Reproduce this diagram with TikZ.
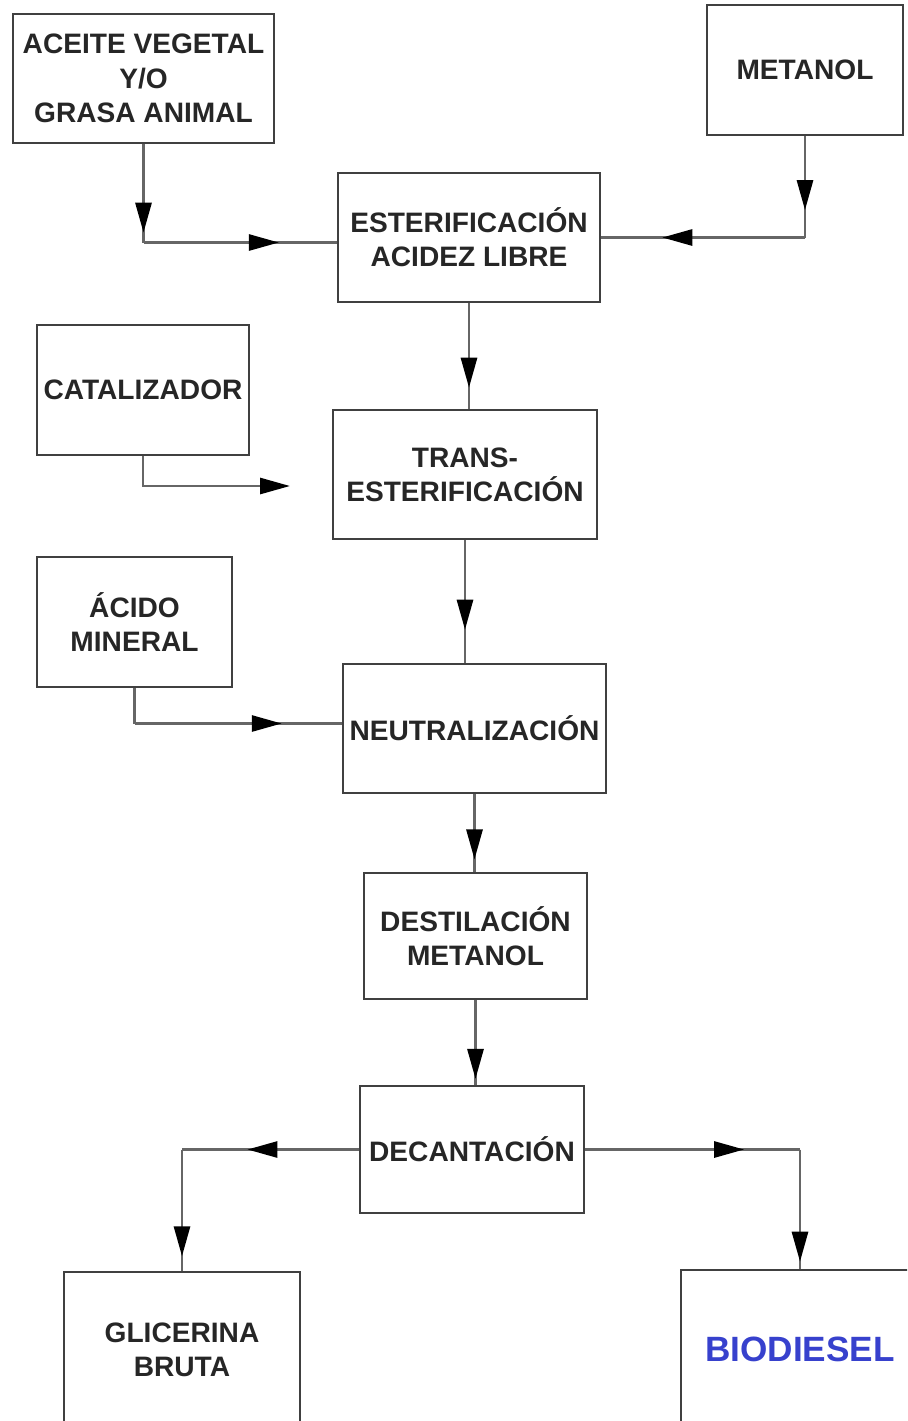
\documentclass[tikz,border=0pt]{standalone}
\usepackage{fontspec}
\setmainfont{Liberation Sans}
\usetikzlibrary{arrows.meta, decorations.markings, positioning, calc}

\newcommand{\boxfont}{\bfseries\fontsize{16}{19.5}\selectfont}
\definecolor{bioblue}{RGB}{55,65,205}

\tikzset{
    box/.style={draw=black!75, line width=1.3pt, inner sep=0pt, align=center,
        text=black!85, font=\boxfont},
    line/.style={draw=black!60, line width=1.6pt},
    flow/.style={line, postaction={decorate, decoration={markings,
        mark=at position #1 with {\arrow{Triangle[length=0.6cm, width=0.32cm, color=black]}}}}},
    flow/.default=0.75
}

\begin{document}
\begin{tikzpicture}[x=0.02cm, y=-0.02cm]
    \useasboundingbox (0,0) rectangle (907,1421);
    \clip (0,0) rectangle (907,1421);

    \node[box, minimum width=5.22cm, minimum height=2.58cm] (aceite) at (143.5,78.5) {ACEITE VEGETAL\\Y/O\\GRASA ANIMAL};
    \node[box, minimum width=3.92cm, minimum height=2.6cm] (metanol) at (805,70) {METANOL};
    \node[box, minimum width=5.24cm, minimum height=2.58cm] (ester) at (469,237.5) {ESTERIFICACIÓN\\ACIDEZ LIBRE};
    \node[box, minimum width=4.24cm, minimum height=2.6cm] (catal) at (143,390) {CATALIZADOR};
    \node[box, minimum width=5.28cm, minimum height=2.58cm] (trans) at (465,474.5) {TRANS-\\ESTERIFICACIÓN};
    \node[box, minimum width=3.9cm, minimum height=2.6cm] (acido) at (134.5,622) {ÁCIDO\\MINERAL};
    \node[box, minimum width=5.26cm, minimum height=2.58cm] (neutr) at (474.5,728.5) {NEUTRALIZACIÓN};
    \node[box, minimum width=4.46cm, minimum height=2.52cm] (dest) at (475.5,936) {DESTILACIÓN\\METANOL};
    \node[box, minimum width=4.48cm, minimum height=2.54cm] (decant) at (472,1149.5) {DECANTACIÓN};
    \node[box, minimum width=4.72cm, minimum height=3.12cm] (glic) at (182,1350) {GLICERINA\\BRUTA};
    \node[box, minimum width=4.76cm, minimum height=3.16cm, text=bioblue,
        font=\bfseries\fontsize{20}{24}\selectfont] (biod) at (800,1349) {BIODIESEL};

    % corners of the feed lines
    \coordinate (k_aceite) at ($(aceite.south |- ester.west)+(0,5)$);
    \coordinate (k_metanol) at (metanol.south |- ester.east);
    \coordinate (k_catal) at (290,486);
    \coordinate (k_acido) at ($(acido.south |- neutr.west)+(0,-5)$);
    \coordinate (k_glic) at (glic.north |- decant.west);
    \coordinate (k_biod) at (biod.north |- decant.east);

    \draw[flow=0.9] (aceite.south) -- (k_aceite);
    \draw[flow=0.7] (k_aceite) -- (k_aceite -| ester.west);
    \draw[flow=0.73] (metanol.south) -- (k_metanol);
    \draw[flow=0.7] (k_metanol) -- (ester.east);
    \draw[flow=0.8] (ester.south) -- (ester.south |- trans.north);
    \draw[line, -{Triangle[length=0.6cm, width=0.32cm, color=black]}] (catal.south) |- (k_catal);
    \draw[flow=0.73] (trans.south) -- (trans.south |- neutr.north);
    \draw[line] (acido.south) -- (k_acido);
    \draw[flow=0.71] (k_acido) -- (k_acido -| neutr.west);
    \draw[flow=0.84] (neutr.south) -- (neutr.south |- dest.north);
    \draw[flow=0.93] (dest.south) -- (dest.south |- decant.north);
    \draw[flow=0.63] (decant.west) -- (k_glic);
    \draw[flow=0.88] (k_glic) -- (glic.north);
    \draw[flow=0.74] (decant.east) -- (k_biod);
    \draw[flow=0.94] (k_biod) -- (biod.north);
\end{tikzpicture}
\end{document}
